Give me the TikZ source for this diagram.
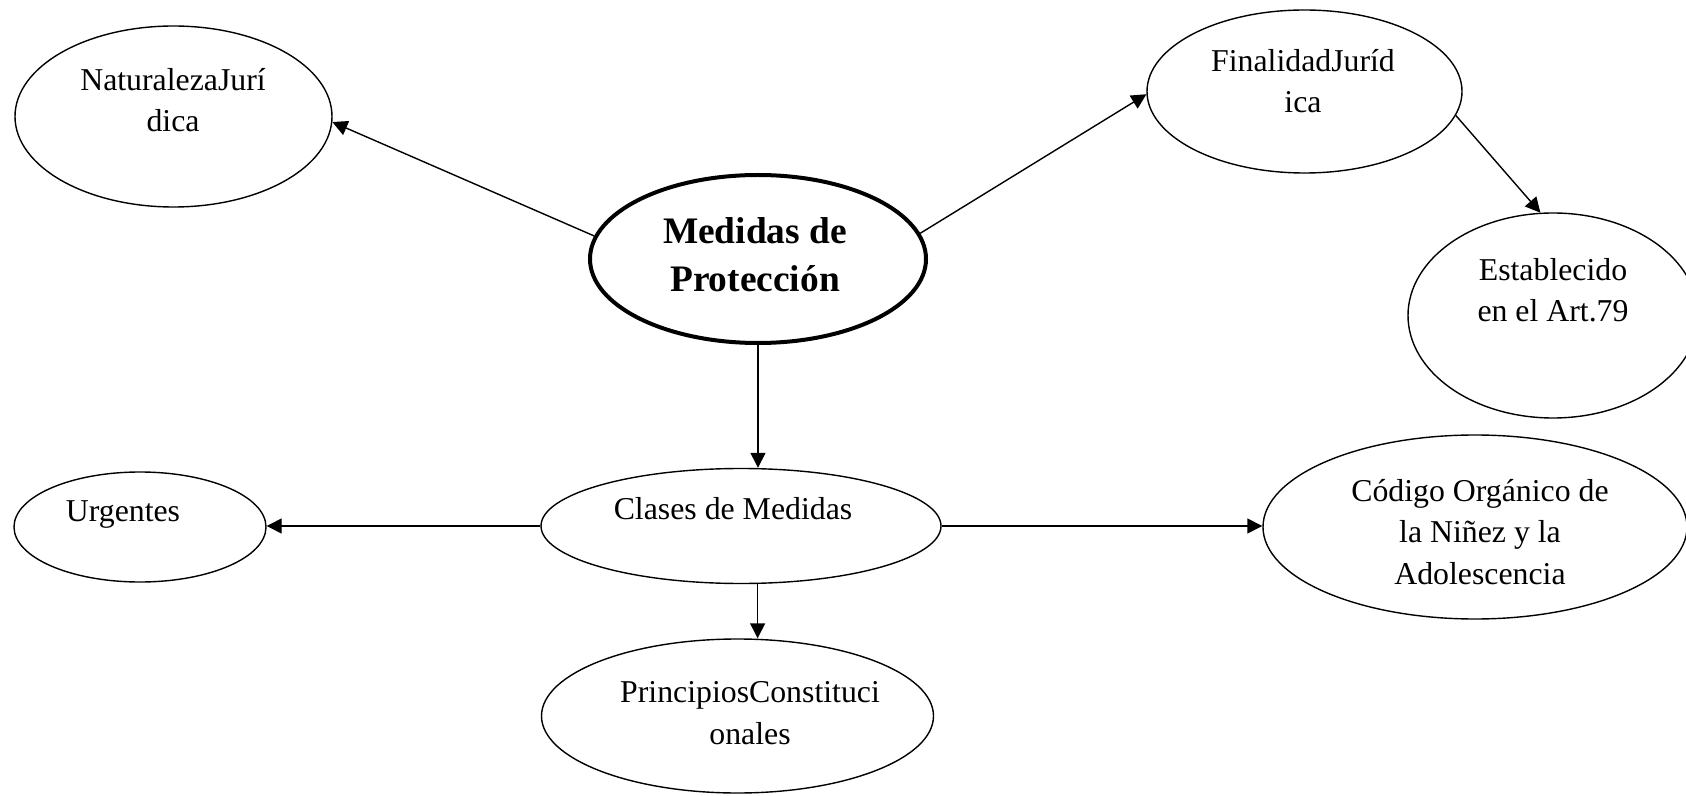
\documentclass[tikz,border=0pt]{standalone}
\usepackage{fontspec}
\setmainfont{Liberation Serif}
\usetikzlibrary{calc,shapes.geometric,arrows.meta}
\tikzset{
  elli/.style={ellipse,draw,line width=0.7pt,inner sep=0pt},
  txt/.style={align=center,font=\fontsize{15.9}{20.8}\selectfont},
  btxt/.style={align=center,font=\bfseries\fontsize{18.7}{24}\selectfont},
  con/.style={-{Triangle[length=7.5pt,width=7.5pt]},line width=0.7pt}
}
\begin{document}
\begin{tikzpicture}[x=0.5pt,y=-0.5pt]
\useasboundingbox (0,0) rectangle (1686,796);
% ellipses
\node[elli,minimum width=158.5pt,minimum height=90.5pt] (nat) at (173.5,116.5) {};
\node[elli,line width=2pt,minimum width=168pt,minimum height=84pt] (med) at (758,259) {};
\node[elli,minimum width=157.5pt,minimum height=81.5pt] (fin) at (1304.5,91.5) {};
\node[elli,minimum width=145pt,minimum height=102.5pt] (est) at (1553,315.5) {};
\node[elli,minimum width=126pt,minimum height=55pt] (urg) at (140,527) {};
\node[elli,minimum width=200pt,minimum height=57.5pt] (cla) at (741,526) {};
\node[elli,minimum width=212pt,minimum height=92pt] (cod) at (1475,527) {};
\node[elli,minimum width=196pt,minimum height=77pt] (pri) at (737.5,716) {};
% texts
\node[txt] (natt) at (173,100) {NaturalezaJurí\\dica};
\node[btxt] (medt) at (755,255) {Medidas de\\Protección};
\node[txt] (fint) at (1303,81) {FinalidadJuríd\\ica};
\node[txt] (estt) at (1553,290) {Establecido\\en el Art.79};
\node[txt] (urgt) at (123,515) {Urgentes};
\node[txt] (clat) at (733,509) {Clases de Medidas};
\node[txt] (codt) at (1480,532) {Código Orgánico de\\la Niñez y la\\Adolescencia};
\node[txt] (prit) at (750,713) {PrincipiosConstituci\\onales};
% arrows
\draw[con] (med.172) -- (nat.-2);
\draw[con] (med.9) -- (fin.181);
\draw[con] (fin.-9) -- (est.97);
\draw[con] (med.south) -- (med.south |- cla.north);
\draw[con] (cla.west) -- (cla.west -| urg.east);
\draw[con] (cla.east) -- (cla.east -| cod.west);
\draw[con] (cla.-74) -- (cla.-74 |- pri.north);
\end{tikzpicture}
\end{document}
